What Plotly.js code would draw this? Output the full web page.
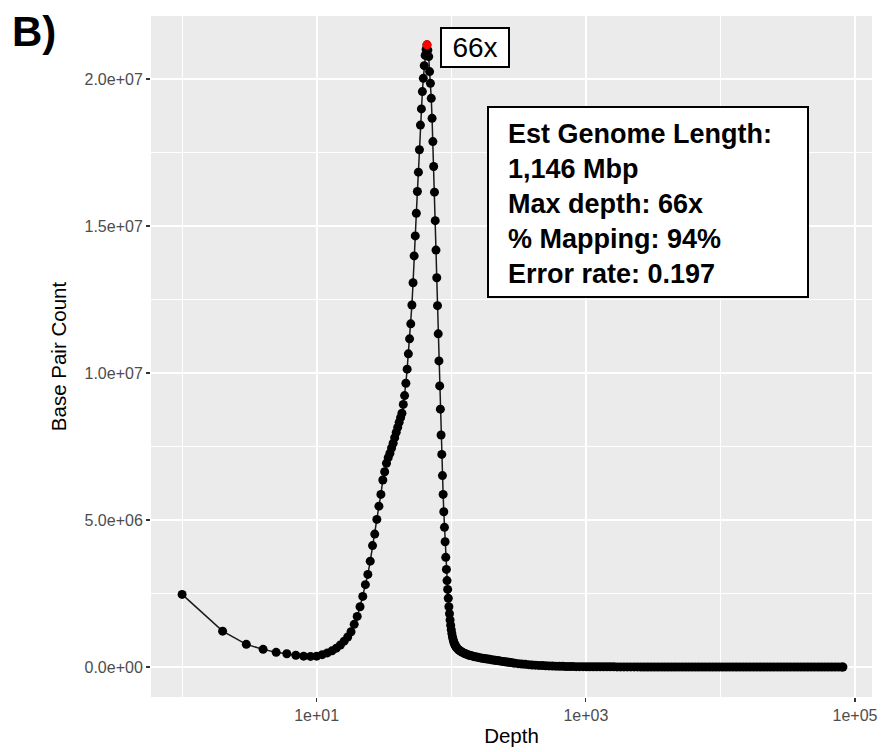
<!DOCTYPE html>
<html><head><meta charset="utf-8">
<script src="https://cdn.plot.ly/plotly-3.0.1.min.js"></script>
<style>html,body{margin:0;padding:0;background:#fff}#chart{width:885px;height:752px}</style>
</head><body><div id="chart"></div>
<script>
// ---- data (counts in millions of base pairs) ----
const riseDepth = [1,2,3,4,5,6,7,8,9,10,11,12,13,14,15,16,17,18,19,20,21,22,23,24,25,26,27,28,29,30,
  31,32,33,34,35,36,37,38,39,40,41,42,43,44,45,46,47,48,49,50,51,52,53,54,55,56,57,58,59,60,61,62,63,64,65,66];
const riseCount = [2.47,1.22,0.77,0.60,0.50,0.45,0.40,0.37,0.36,0.37,
  0.42,0.48,0.55,0.64,0.75,0.88,1.02,1.20,1.45,1.72,
  2.05,2.40,2.80,3.15,3.60,4.13,4.52,5.02,5.47,5.87,
  6.36,6.64,6.93,7.12,7.27,7.45,7.61,7.80,7.98,8.15,
  8.32,8.48,8.63,8.93,9.23,9.65,10.13,10.65,11.16,11.67,
  12.31,13.07,13.98,14.66,15.43,16.17,16.83,17.59,18.43,18.98,
  19.57,20.02,20.45,20.80,21.00,21.16];
const fallDepth = [67,68,69,70,71,72,73,74,75,76,77,78,79,80,81,82,83,84,85,86,87,88,89,90,91,92,93,94,95];
const fallCount = [20.98,20.76,20.25,19.85,19.34,18.66,17.87,17.02,16.15,15.18,
  14.18,13.24,12.29,11.33,10.41,9.56,8.77,7.89,7.23,6.51,
  5.87,5.28,4.75,4.26,3.73,3.32,2.94,2.64,2.34];
const tailDepth = [96,97,98,99,100,101,102,103,104,105,106,107,108,109,110,
  112,114,116,118,120,123,126,129,132,135,138,142,146,150,155,
  160,165,170,175,180,186,192,198,205,212,219,226,234,242,250,
  259,268,277,287,297,315,334,354,375,398,422,447,474,502,532,
  564,598,634,672,712,755,800,848,899,953,1010,1071,1135,1203,1275,
  1352,1433,1519,1610,1707,1809,1918,2033,2155,2284,2421,2566,2720,2884,3057,
  3240,3434,3641,3859,4091,4336,4596,4872,5165,5475,5803,6151,6520,6912,7326,
  7766,8232,8726,9249,9804,10392,11016,11677,12378,13120,13907,14742,15626,16564,17558,
  18611,19728,20912,22166,23496,24906,26400,27984,29663,31443,33330,35330,37450,39697,42078,
  44603,47279,50116,53123,56310,59689,63270,67066,71090,75356,79877,81300];
const tailCount = [2.05,1.81,1.60,1.42,1.27,1.14,1.03,0.95,0.88,0.82,0.77,0.73,0.70,0.67,0.65,
  0.61,0.58,0.55,0.53,0.51,0.48,0.46,0.44,0.42,0.41,0.39,0.38,0.36,0.35,0.34,
  0.32,0.31,0.30,0.29,0.28,0.27,0.26,0.25,0.24,0.23,0.22,0.21,0.20,0.19,0.18,
  0.17,0.16,0.15,0.14,0.13,0.115,0.10,0.09,0.08,0.07,0.062,0.055,0.048,0.042,0.037,
  0.032,0.028,0.025,0.022,0.019,0.017,0.015,0.013,0.012,0.011,0.010,0.009,0.008,0.007,0.007,
  0.006,0.006,0.005,0.005,0.004,0.004,0.004,0.003,0.003,0.003,0.003,0.002,0.002,0.002,0.002,
  0.002,0.002,0.001,0.001,0.001,0.001,0.001,0.001,0.001,0.001,0.001,0.001,0.001,0.001,0.001,
  0.001,0.001,0.001,0.001,0.001,0,0,0,0,0,0,0,0,0,0,
  0,0,0,0,0,0,0,0,0,0,0,0,0,0,0,
  0,0,0,0,0,0,0,0,0,0,0,0];

const xTickVals = [10, 1000, 100000];
const xTickText = ['1e+01', '1e+03', '1e+05'];
const xMinorVals = [1, 100, 10000];
const yTickVals = [0, 5e6, 1e7, 1.5e7, 2e7];
const yTickText = ['0.0e+00', '5.0e+06', '1.0e+07', '1.5e+07', '2.0e+07'];
const yMinorVals = [2.5e6, 7.5e6, 1.25e7, 1.75e7];

const genomeLength = '1,146 Mbp';
const mappingPct = '94%';
const errorRate = '0.197';

// ---- build ----
const depth = riseDepth.concat(fallDepth, tailDepth);
const count = riseCount.concat(fallCount, tailCount).map(v => v * 1e6);
let peakIdx = 0;
for (let i = 0; i < count.length; i++) if (count[i] > count[peakIdx]) peakIdx = i;
const peakDepth = depth[peakIdx];
const peakCount = count[peakIdx];

const FONT = 'Liberation Sans, Arial, Helvetica, sans-serif';

const traces = [
  {x: depth, y: count, type: 'scatter', mode: 'lines+markers',
   line: {color: '#1a1a1a', width: 1.5},
   marker: {color: '#000000', size: 9}, hoverinfo: 'x+y'},
  {x: [peakDepth], y: [peakCount], type: 'scatter', mode: 'markers',
   marker: {color: '#FF0000', size: 9}}
];

const px = (p) => (p - 151) / 721;      // pixel -> paper x
const py = (p) => (697 - p) / 681;      // pixel -> paper y

const layout = {
  width: 885, height: 752,
  margin: {l: 151, r: 13, t: 16, b: 55},
  paper_bgcolor: '#FFFFFF', plot_bgcolor: '#EBEBEB',
  showlegend: false,
  font: {family: FONT, color: '#000'},
  xaxis: {
    type: 'log', range: [-0.231, 5.126], automargin: false,
    tickmode: 'array', tickvals: xTickVals, ticktext: xTickText,
    ticks: 'outside', ticklen: 4, tickwidth: 1.2, tickcolor: '#333333',
    tickfont: {size: 16, color: '#4D4D4D', family: FONT},
    showgrid: true, gridcolor: '#FFFFFF', gridwidth: 2,
    zeroline: false, showline: false,
    minor: {tickmode: 'array', tickvals: xMinorVals, showgrid: true, gridcolor: '#FFFFFF', gridwidth: 1, ticks: ''},
    title: {text: 'Depth', font: {size: 20.5, color: '#000', family: FONT}, standoff: 5}
  },
  yaxis: {
    range: [-1.02e6, 22.14e6], automargin: false,
    tickmode: 'array', tickvals: yTickVals, ticktext: yTickText,
    ticks: 'outside', ticklen: 4, tickwidth: 1.2, tickcolor: '#333333',
    tickfont: {size: 16, color: '#4D4D4D', family: FONT},
    showgrid: true, gridcolor: '#FFFFFF', gridwidth: 2,
    zeroline: false, showline: false,
    minor: {tickmode: 'array', tickvals: yMinorVals, showgrid: true, gridcolor: '#FFFFFF', gridwidth: 1, ticks: ''},
    title: {text: 'Base Pair Count', font: {size: 20.5, color: '#000', family: FONT}, standoff: 12}
  },
  shapes: [
    {type: 'rect', xref: 'paper', yref: 'paper', x0: px(488), x1: px(808), y0: py(297), y1: py(107),
     fillcolor: '#FFFFFF', line: {color: '#000000', width: 2}, layer: 'above'}
  ],
  annotations: [
    {xref: 'paper', yref: 'paper', x: px(10), y: py(32), xanchor: 'left', yanchor: 'middle',
     text: '<b>B)</b>', showarrow: false, font: {size: 42, color: '#000', family: FONT}},
    {xref: 'x', yref: 'y', x: Math.log10(peakDepth), y: peakCount, xshift: 48, yshift: -2.5,
     xanchor: 'center', yanchor: 'middle', text: peakDepth + 'x', showarrow: false,
     font: {size: 28, color: '#000', family: FONT},
     bgcolor: '#FFFFFF', bordercolor: '#000000', borderwidth: 2, borderpad: 2, width: 62, height: 33},
    {xref: 'paper', yref: 'paper', x: px(506), y: py(204), xanchor: 'left', yanchor: 'middle', align: 'left',
     showarrow: false, font: {size: 27, color: '#000', family: FONT},
     text: '<b>Est Genome Length:</b><br><b>' + genomeLength + '</b><br><b>Max depth: ' + peakDepth +
           'x</b><br><b>% Mapping: ' + mappingPct + '</b><br><b>Error rate: ' + errorRate + '</b>'}
  ]
};

Plotly.newPlot('chart', traces, layout, {displayModeBar: false, staticPlot: true});
</script></body></html>
